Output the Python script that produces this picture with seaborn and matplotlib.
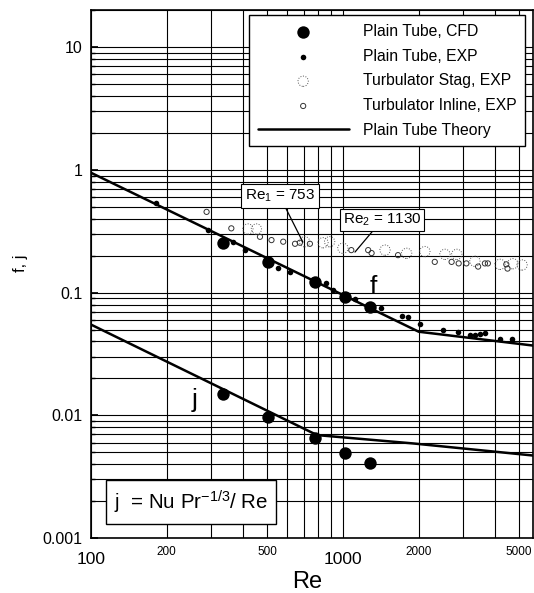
import matplotlib
matplotlib.use("Agg")
import matplotlib.pyplot as plt
import matplotlib.ticker as mticker
import numpy as np
import pandas as pd
import seaborn as sns

# ---------------- data ----------------
cfd_re = [335, 506, 774, 1018, 1279]
cfd_f = [0.252, 0.178, 0.122, 0.0925, 0.0766]
cfd_j = [0.0149, 0.0097, 0.0065, 0.00495, 0.00406]

exp_re = [182, 291, 367, 408, 553, 617, 861, 916, 1117, 1423, 1710, 1820,
          2022, 2500, 2870, 3190, 3350, 3490, 3660, 4200, 4670]
exp_f = [0.533, 0.323, 0.26, 0.222, 0.160, 0.148, 0.119, 0.105, 0.089, 0.0745,
         0.064, 0.063, 0.056, 0.0496, 0.0475, 0.0451, 0.0455, 0.046, 0.0465,
         0.0416, 0.0416]

stag_re = [420, 454, 705, 834, 886, 1000, 1470, 1790, 2115, 2540, 2830, 3340,
           4200, 4720, 5140]
stag_f = [0.33, 0.33, 0.26, 0.255, 0.26, 0.23, 0.222, 0.209, 0.216, 0.205,
          0.205, 0.18, 0.17, 0.172, 0.168]

inline_re = [288, 361, 469, 521, 580, 646, 675, 740, 1080, 1260, 1300, 1655,
             2315, 2700, 2880, 3090, 3440, 3660, 3760, 4450, 4500]
inline_f = [0.455, 0.334, 0.285, 0.268, 0.26, 0.25, 0.255, 0.25, 0.222, 0.222,
            0.21, 0.202, 0.178, 0.178, 0.173, 0.173, 0.163, 0.173, 0.173, 0.17,
            0.157]

theory_f_re = [100, 2000, 5700]
theory_f = [0.95, 0.048, 0.037]
theory_j_re = [100, 790, 1900, 5700]
theory_j = [0.055, 0.0069, 0.0059, 0.0047]

major_x = [100, 1000]
minor_x_labels = {200: "200", 500: "500", 2000: "2000", 5000: "5000"}
y_ticks = [0.001, 0.01, 0.1, 1, 10]
y_tick_labels = ["0.001", "0.01", "0.1", "1", "10"]

# ---------------- plot ----------------
sns.set_theme(style="white")
plt.rcParams["font.family"] = ["Liberation Sans", "DejaVu Sans"]
plt.rcParams["mathtext.fontset"] = "custom"
plt.rcParams["mathtext.rm"] = "Liberation Sans"
plt.rcParams["mathtext.it"] = "Liberation Sans:italic"
plt.rcParams["mathtext.default"] = "regular"
plt.rcParams["text.color"] = "black"
plt.rcParams["axes.labelcolor"] = "black"
plt.rcParams["xtick.color"] = "black"
plt.rcParams["ytick.color"] = "black"

fig = plt.figure(figsize=(5.34, 5.93), dpi=100)
ax = fig.add_axes([0.170, 0.0927, 0.828, 0.890])

ax.set_xscale("log")
ax.set_yscale("log")
ax.set_xlim(100, 5675)
ax.set_ylim(0.001, 20)

ax.grid(True, which="both", color="black", linewidth=0.8, zorder=0)
ax.set_axisbelow(True)

df_tf = pd.DataFrame({"Re": theory_f_re, "v": theory_f})
df_tj = pd.DataFrame({"Re": theory_j_re, "v": theory_j})
sns.lineplot(data=df_tf, x="Re", y="v", ax=ax, color="black", linewidth=1.8,
             label="Plain Tube Theory", zorder=3)
sns.lineplot(data=df_tj, x="Re", y="v", ax=ax, color="black", linewidth=1.8,
             zorder=3)

df_stag = pd.DataFrame({"Re": stag_re, "f": stag_f})
df_inl = pd.DataFrame({"Re": inline_re, "f": inline_f})
sns.scatterplot(data=df_stag, x="Re", y="f", ax=ax, s=55, facecolor="none",
                edgecolor="#555555", linewidth=0.7, linestyle=":",
                label="Turbulator Stag, EXP", zorder=4)
sns.scatterplot(data=df_inl, x="Re", y="f", ax=ax, s=14, facecolor="none",
                edgecolor="#333333", linewidth=0.7,
                label="Turbulator Inline, EXP", zorder=4)

df_exp = pd.DataFrame({"Re": exp_re, "f": exp_f})
sns.scatterplot(data=df_exp, x="Re", y="f", ax=ax, s=16, color="black",
                edgecolor="black", linewidth=0, label="Plain Tube, EXP", zorder=5)

df_cfd = pd.DataFrame({"Re": cfd_re + cfd_re, "v": cfd_f + cfd_j})
sns.scatterplot(data=df_cfd, x="Re", y="v", ax=ax, s=80, color="black",
                edgecolor="black", linewidth=0, label="Plain Tube, CFD", zorder=5)

# legend in the required order
handles, labels = ax.get_legend_handles_labels()
order = ["Plain Tube, CFD", "Plain Tube, EXP", "Turbulator Stag, EXP",
         "Turbulator Inline, EXP", "Plain Tube Theory"]
hmap = dict(zip(labels, handles))
leg = ax.legend([hmap[o] for o in order], order, loc="upper right",
                bbox_to_anchor=(0.9825, 0.9905), fontsize=11.3, frameon=True,
                fancybox=False, edgecolor="black", framealpha=1,
                handlelength=5.8, borderpad=0.55, labelspacing=0.62,
                handletextpad=0.9, borderaxespad=0)
leg.get_frame().set_linewidth(1.0)
leg.set_zorder(10)

# axes ticks
ax.xaxis.set_major_locator(mticker.FixedLocator(major_x))
ax.xaxis.set_major_formatter(mticker.FixedFormatter([str(v) for v in major_x]))
ax.xaxis.set_minor_locator(mticker.LogLocator(base=10, subs=np.arange(2, 10)))


def minor_fmt(v, pos):
    r = int(round(v))
    return minor_x_labels.get(r, "")


ax.xaxis.set_minor_formatter(mticker.FuncFormatter(minor_fmt))
ax.tick_params(axis="x", which="major", labelsize=12.5, length=0, pad=10)
ax.tick_params(axis="x", which="minor", labelsize=8.5, length=0, pad=6)

ax.yaxis.set_major_locator(mticker.FixedLocator(y_ticks))
ax.yaxis.set_major_formatter(mticker.FixedFormatter(y_tick_labels))
ax.yaxis.set_minor_locator(mticker.LogLocator(base=10, subs=np.arange(2, 10)))
ax.yaxis.set_minor_formatter(mticker.NullFormatter())
ax.tick_params(axis="y", which="major", labelsize=11.5, length=5, direction="in",
               left=True, pad=6, color="black")
ax.tick_params(axis="y", which="minor", length=3, direction="in", left=True,
               color="black")

for sp in ax.spines.values():
    sp.set_color("black")
    sp.set_linewidth(1.2)

ax.set_xlabel("Re", fontsize=17, va="center")
ax.xaxis.set_label_coords(0.49, -0.083)
ax.set_ylabel("f, j", fontsize=12)
ax.yaxis.set_label_coords(-0.143, 0.521)

# annotations
ax.annotate("Re$_1$ = 753", xy=(694, 0.258), xytext=(562, 0.61),
            fontsize=11, ha="center", va="center", zorder=9,
            bbox=dict(boxstyle="square,pad=0.25", fc="white", ec="black", lw=0.8),
            arrowprops=dict(arrowstyle="-", color="black", lw=0.9,
                            shrinkA=0, shrinkB=0))
ax.annotate("Re$_2$ = 1130", xy=(1117, 0.214), xytext=(1429, 0.39),
            fontsize=11, ha="center", va="center", zorder=9,
            bbox=dict(boxstyle="square,pad=0.2", fc="white", ec="black", lw=0.8),
            arrowprops=dict(arrowstyle="-", color="black", lw=0.9,
                            shrinkA=0, shrinkB=0))

ax.text(1315, 0.112, "f", fontsize=19, ha="center", va="center", zorder=9)
ax.text(259, 0.0134, "j", fontsize=19, ha="center", va="center", zorder=9)

ax.text(250, 0.00196, "j  = Nu Pr$^{-1/3}$/ Re", fontsize=14.8, ha="center",
        va="center", zorder=9,
        bbox=dict(boxstyle="square,pad=0.4", fc="white", ec="black", lw=1.0))

fig.savefig("out.png", dpi=100)
